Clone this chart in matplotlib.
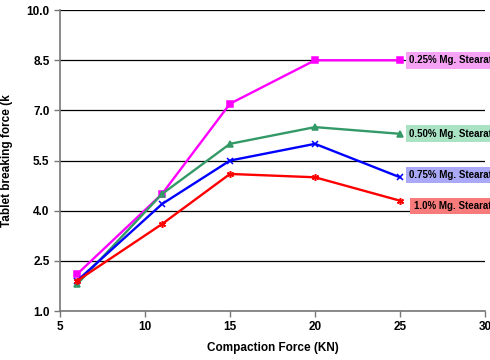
import matplotlib
matplotlib.use("Agg")
import matplotlib.pyplot as plt

# data
force = [6, 11, 15, 20, 25]
mg025 = [2.1, 4.5, 7.2, 8.5, 8.5]
mg050 = [1.8, 4.5, 6.0, 6.5, 6.3]
mg075 = [1.9, 4.2, 5.5, 6.0, 5.0]
mg100 = [1.9, 3.6, 5.1, 5.0, 4.3]
names = ["0.25% Mg. Stearate", "0.50% Mg. Stearate",
         "0.75% Mg. Stearate", "1.0% Mg. Stearate"]
label_x = [25.55, 25.55, 25.55, 25.8]
label_y = [8.5, 6.3, 5.07, 4.14]
yticks = [1.0, 2.5, 4.0, 5.5, 7.0, 8.5, 10.0]
xticks = [5, 10, 15, 20, 25, 30]

plt.rcParams['font.family'] = ['Liberation Sans', 'DejaVu Sans']

fig = plt.figure(figsize=(4.9, 3.6), dpi=100)
ax = fig.add_axes([0.1224, 0.136, 0.8674, 0.836])

series = [mg025, mg050, mg075, mg100]
colors = ['#ff00ff', '#339966', '#0000ff', '#ff0000']
markers = ['s', '^', 'x', (6, 2, 0)]
boxcol = ['#f7a3f5', '#a9e3c4', '#a9a9f7', '#f77b7b']

for ys, c, m in zip(series, colors, markers):
    ax.plot(force, ys, color=c, lw=1.7, marker=m, ms=5, mew=1.1, mfc=c, mec=c,
            clip_on=False, zorder=3)

for n, x, y, bc in zip(names, label_x, label_y, boxcol):
    ax.text(x, y, n, fontsize=7.0, fontweight='bold', va='center', ha='left',
            bbox=dict(boxstyle='square,pad=0.35', fc=bc, ec='none'),
            clip_on=False, zorder=4)

ax.set_xlim(5, 30)
ax.set_ylim(1.0, 10.0)
ax.set_xticks(xticks)
ax.set_yticks(yticks)
ax.set_yticklabels(['%.1f' % v for v in yticks])
ax.yaxis.grid(True, color='black', lw=0.9)
ax.set_axisbelow(True)

for s in ['top', 'right']:
    ax.spines[s].set_visible(False)
for s in ['left', 'bottom']:
    ax.spines[s].set_color('#777777')
    ax.spines[s].set_linewidth(1.2)
ax.tick_params(colors='#777777', labelcolor='black', length=4, width=1)
for lab in ax.get_xticklabels() + ax.get_yticklabels():
    lab.set_fontweight('bold')
    lab.set_fontsize(8.5)

ax.set_xlabel('Compaction Force (KN)', fontsize=8.5, fontweight='bold', labelpad=6)
ax.set_ylabel('Tablet breaking force (k', fontsize=8.5, fontweight='bold', labelpad=10)

fig.savefig('out.png', dpi=100)
